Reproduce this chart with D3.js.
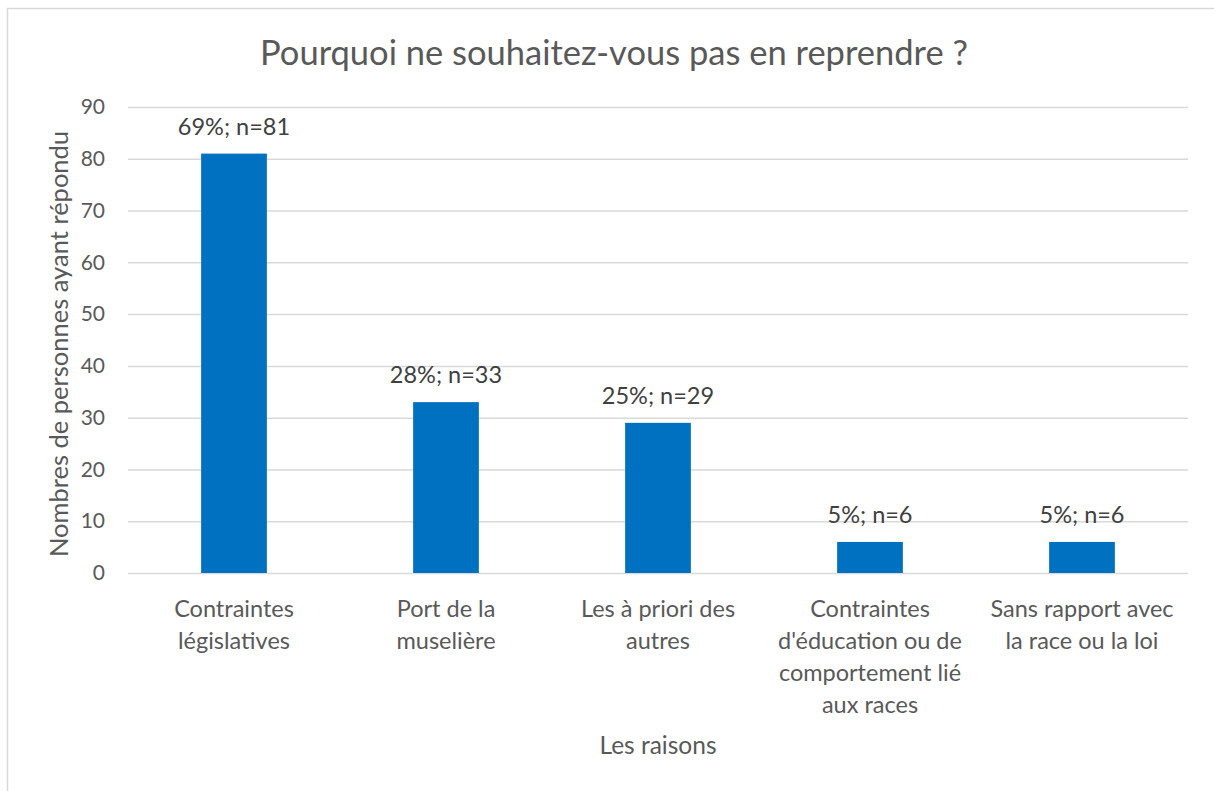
<!DOCTYPE html>
<html>
<head>
<meta charset="utf-8">
<script src="https://cdn.jsdelivr.net/npm/d3@7"></script>
<style>
  body { margin: 0; background: #fff; }
  svg { display: block; }
  svg text { font-family: Lato, "Open Sans", sans-serif; }
</style>
</head>
<body>
<svg width="1214" height="791"></svg>
<script>
// data
var categories = [
  "Contraintes\nlégislatives",
  "Port de la\nmuselière",
  "Les à priori des\nautres",
  "Contraintes\nd'éducation ou de\ncomportement lié\naux races",
  "Sans rapport avec\nla race ou la loi"
];
var counts = [81, 33, 29, 6, 6];
var percents = [69, 28, 25, 5, 5];
var yTicks = [0, 10, 20, 30, 40, 50, 60, 70, 80, 90];

var svg = d3.select("svg"),
    margin = {top: 107, right: 26, bottom: 218, left: 128},
    width = +svg.attr("width") - margin.left - margin.right,
    height = +svg.attr("height") - margin.top - margin.bottom,
    textColor = "#595959",
    gridColor = "#d9d9d9";

// chart frame (clipped on the right / bottom like the source screenshot)
svg.append("rect")
    .attr("x", 7.5).attr("y", 8.5)
    .attr("width", 1240).attr("height", 820)
    .attr("fill", "none")
    .attr("stroke", gridColor)
    .attr("stroke-width", 1.5);

var g = svg.append("g").attr("transform", "translate(" + margin.left + "," + margin.top + ")");

var x = d3.scaleBand()
    .domain(categories)
    .range([0, width])
    .paddingInner(0.69)
    .paddingOuter(0.345);

var y = d3.scaleLinear().domain([0, 90]).range([height, 0]);

//gridlines + y labels
var yAxis = g.append("g")
    .attr("class", "axis axis-y")
    .call(d3.axisLeft(y).tickValues(yTicks).tickSize(-width).tickPadding(23));
yAxis.select(".domain").remove();
yAxis.selectAll(".tick line").attr("stroke", gridColor).attr("stroke-width", 1.5);
yAxis.selectAll(".tick text")
    .attr("fill", textColor)
    .style("font-size", "21px");

//bars
g.selectAll(".bar")
    .data(counts)
    .enter().append("rect")
    .attr("class", "bar")
    .attr("x", function(d, i) { return x(categories[i]); })
    .attr("width", x.bandwidth())
    .attr("y", function(d) { return y(d); })
    .attr("height", function(d) { return height - y(d); })
    .attr("fill", "#0070c0");

//data labels
g.selectAll(".label")
    .data(counts)
    .enter().append("text")
    .attr("class", "label")
    .attr("x", function(d, i) { return x(categories[i]) + x.bandwidth() / 2; })
    .attr("y", function(d) { return y(d) - 19; })
    .attr("text-anchor", "middle")
    .attr("fill", "#404040")
    .style("font-size", "23.5px")
    .text(function(d, i) { return percents[i] + "%; n=" + d; });

//category labels (x axis)
var xAxis = g.append("g")
    .attr("class", "axis axis-x")
    .attr("transform", "translate(0," + height + ")")
    .call(d3.axisBottom(x).tickSize(0).tickFormat(""));
xAxis.select(".domain").remove();
xAxis.selectAll(".tick").each(function(d) {
  var t = d3.select(this).append("text")
      .attr("text-anchor", "middle")
      .attr("fill", textColor)
      .style("font-size", "23.5px");
  d.split("\n").forEach(function(line, k) {
    t.append("tspan").attr("x", 0).attr("y", 44 + k * 32).text(line);
  });
});

//axis titles
g.append("text")
    .attr("x", width / 2)
    .attr("y", height + 181)
    .attr("text-anchor", "middle")
    .attr("fill", textColor)
    .style("font-size", "24.5px")
    .text("Les raisons");

g.append("text")
    .attr("transform", "rotate(-90)")
    .attr("x", -(height / 2) - 4)
    .attr("y", -60)
    .attr("text-anchor", "middle")
    .attr("fill", textColor)
    .style("font-size", "25.5px")
    .text("Nombres de personnes ayant répondu");

//chart title
svg.append("text")
    .attr("x", 614)
    .attr("y", 65)
    .attr("text-anchor", "middle")
    .attr("fill", textColor)
    .style("font-size", "34.5px")
    .text("Pourquoi ne souhaitez-vous pas en reprendre ?");
</script>
</body>
</html>
